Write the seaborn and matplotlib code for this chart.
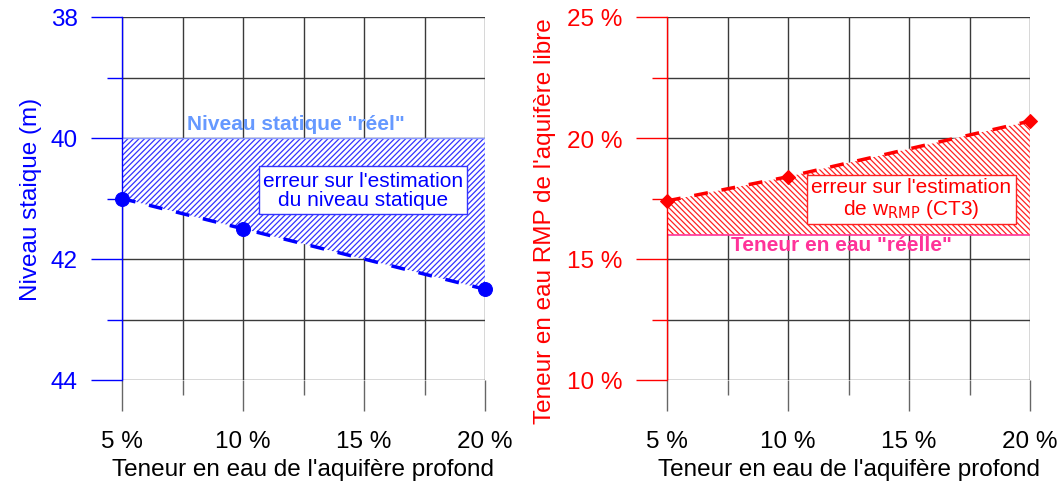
import numpy as np
import pandas as pd
import matplotlib
matplotlib.use("Agg")
import matplotlib.pyplot as plt
from matplotlib.ticker import MultipleLocator, FuncFormatter
import seaborn as sns

# ---- data ----
teneur_profond = [5, 10, 20]            # % (x, both panels)
niveau_statique = [41.0, 41.5, 42.5]    # m (left panel)
niveau_reel = 40.0                      # m
teneur_rmp = [17.4, 18.4, 20.7]         # % (right panel)
teneur_reelle = 16.0                    # %

sns.set_theme(style="white")
plt.rcParams['font.family'] = ['Liberation Sans', 'DejaVu Sans']
plt.rcParams['hatch.linewidth'] = 0.9

fig = plt.figure(figsize=(10.63, 4.85), dpi=100)
axL = fig.add_axes([122/1063, 1-381/485, 363/1063, 363/485])
axR = fig.add_axes([667/1063, 1-381/485, 363/1063, 363/485])

BLUE = '#0000ff'
RED = '#ff0000'
GRID = '#3a3a3a'
TICKFS = 17.5
LABFS = 17.5
ANNFS = 15


def style_axis(ax, col, ylo, yhi, ymaj, ymin, yfmt, invert):
    ax.set_xlim(5, 20)
    ax.set_ylim(ylo, yhi)
    if invert:
        ax.invert_yaxis()
    ax.xaxis.set_major_locator(MultipleLocator(5))
    ax.xaxis.set_minor_locator(MultipleLocator(2.5))
    ax.yaxis.set_major_locator(MultipleLocator(ymaj))
    ax.yaxis.set_minor_locator(MultipleLocator(ymin))
    ax.xaxis.set_major_formatter(FuncFormatter(lambda v, p: f"{v:.0f} %"))
    ax.yaxis.set_major_formatter(FuncFormatter(yfmt))
    ax.grid(True, which='both', color=GRID, lw=1.0)
    ax.set_axisbelow(True)
    for s in ['top', 'right', 'bottom']:
        ax.spines[s].set_visible(False)
    ax.spines['left'].set_color(col)
    ax.spines['left'].set_linewidth(1.0)
    ax.tick_params(axis='x', which='major', length=22, width=1, color='#666666',
                   labelsize=TICKFS, labelcolor='black', pad=14, direction='out', bottom=True)
    ax.tick_params(axis='x', which='minor', length=11, width=1, color='#666666', bottom=True)
    ax.tick_params(axis='y', which='major', length=22, width=1, color=col,
                   labelsize=TICKFS, labelcolor=col, pad=10, left=True)
    ax.tick_params(axis='y', which='minor', length=11, width=1, color=col, left=True)
    ax.set_facecolor('white')


style_axis(axL, BLUE, 38, 44, 2, 1, lambda v, p: f"{v:.0f}", True)
style_axis(axR, RED, 10, 25, 5, 2.5, lambda v, p: f"{v:.0f} %", False)

# ---- left panel ----
dfL = pd.DataFrame({'x': teneur_profond, 'y': niveau_statique})
xs = [teneur_profond[0], teneur_profond[-1]] + teneur_profond[::-1]
ysL = [niveau_reel, niveau_reel] + niveau_statique[::-1]
axL.fill(xs, ysL, facecolor='white', edgecolor='#3333ff', hatch='//////', lw=0, zorder=2)
axL.plot([5, 20], [niveau_reel, niveau_reel], color='#8899ff', lw=1, zorder=2.5)
axL.plot([20, 20], [niveau_reel, niveau_statique[-1]], color='#8899ff', lw=1, zorder=2.5)
sns.lineplot(data=dfL, x='x', y='y', ax=axL, color=BLUE, lw=2.5, linestyle=(0, (4, 4)),
             marker='o', markersize=10, markeredgecolor=BLUE, zorder=4, clip_on=False)
axL.set_xlabel("Teneur en eau de l'aquifère profond", fontsize=LABFS, color='black', labelpad=4)
axL.set_ylabel("Niveau staique (m)", fontsize=LABFS, color=BLUE, labelpad=6)
axL.text(12.2, 39.76, 'Niveau statique "réel"', color='#6699ff', fontsize=ANNFS,
         fontweight='bold', ha='center', va='center', zorder=5)
axL.text(14.95, 40.86, "erreur sur l'estimation\ndu niveau statique", color=BLUE,
         fontsize=ANNFS, ha='center', va='center', linespacing=1.05, zorder=5,
         bbox=dict(boxstyle='square,pad=0.2', fc='white', ec='#3333ff', lw=1))

# ---- right panel ----
dfR = pd.DataFrame({'x': teneur_profond, 'y': teneur_rmp})
ysR = [teneur_reelle, teneur_reelle] + teneur_rmp[::-1]
axR.fill(xs, ysR, facecolor='white', edgecolor='#ff2222', hatch='\\\\\\\\\\\\', lw=0, zorder=2)
axR.plot([5, 20], [teneur_reelle, teneur_reelle], color='#ff3399', lw=1.2, zorder=2.5)
axR.plot([20, 20], [teneur_reelle, teneur_rmp[-1]], color='#ff8888', lw=1, zorder=2.5)
sns.lineplot(data=dfR, x='x', y='y', ax=axR, color=RED, lw=2.5, linestyle=(0, (4, 4)),
             marker='D', markersize=7, markeredgecolor=RED, zorder=4, clip_on=False)
axR.set_xlabel("Teneur en eau de l'aquifère profond", fontsize=LABFS, color='black', labelpad=4)
axR.set_ylabel("Teneur en eau RMP de l'aquifère libre", fontsize=17.5, color=RED, labelpad=6)
axR.yaxis.set_label_coords(-0.305, 0.44)
axR.text(12.2, 15.58, 'Teneur en eau "réelle"', color='#ff3399', fontsize=ANNFS,
         fontweight='bold', ha='center', va='center', zorder=5)
axR.text(15.1, 17.5, "erreur sur l'estimation\nde w$_{\\mathrm{RMP}}$ (CT3)", color=RED,
         fontsize=ANNFS, ha='center', va='center', linespacing=1.05, zorder=5,
         bbox=dict(boxstyle='square,pad=0.2', fc='white', ec='#ff2222', lw=1))

for ax in (axL, axR):
    leg = ax.get_legend()
    if leg:
        leg.remove()

fig.savefig('out.png', dpi=100, facecolor='white')
